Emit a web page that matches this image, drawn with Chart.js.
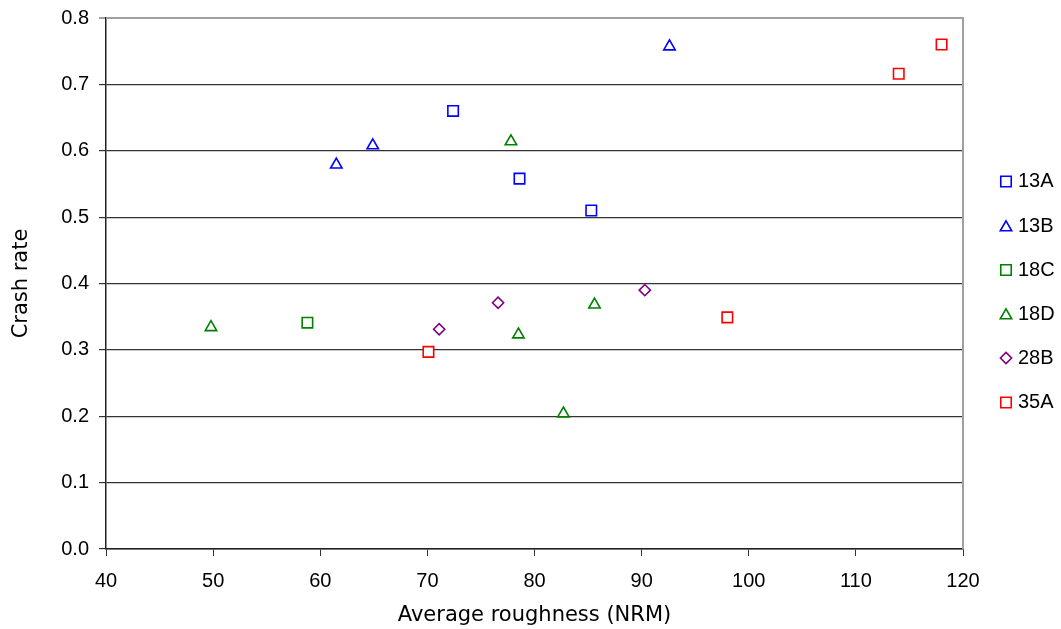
<!DOCTYPE html>
<html>
<head>
<meta charset="utf-8">
<script src="https://cdn.jsdelivr.net/npm/chart.js@4"></script>
<style>
  body { margin: 0; background: #fff; }
  canvas { display: block; }
</style>
</head>
<body>
<canvas id="myChart" width="1061" height="629"></canvas>
<script>
// series: average roughness (x) and crash rate (y)
const seriesNames = ['13A', '13B', '18C', '18D', '28B', '35A']

const x13A = [72.4, 78.6, 85.3]
const y13A = [0.660, 0.558, 0.510]

const x13B = [61.5, 64.9, 92.6]
const y13B = [0.579, 0.608, 0.757]

const x18C = [58.8]
const y18C = [0.341]

const x18D = [49.8, 77.8, 78.5, 82.7, 85.6]
const y18D = [0.334, 0.614, 0.323, 0.204, 0.368]

const x28B = [71.1, 76.6, 90.3]
const y28B = [0.331, 0.371, 0.390]

const x35A = [70.1, 98.0, 114.0, 118.0]
const y35A = [0.297, 0.349, 0.716, 0.760]

const xTicks = [40, 50, 60, 70, 80, 90, 100, 110, 120]
const yTicks = [0.0, 0.1, 0.2, 0.3, 0.4, 0.5, 0.6, 0.7, 0.8]

const puntos = (xs, ys) => xs.map((x, i) => ({ x: x, y: ys[i] }))

const serie = (label, xs, ys, color, estilo, radio) => ({
    label: label,
    data: puntos(xs, ys),
    pointStyle: estilo,
    pointRadius: radio,
    pointHoverRadius: radio,
    borderColor: color,
    backgroundColor: '#ffffff',
    pointBorderWidth: 1.6,
    showLine: false
})

/* ----------------------------- marco y leyenda ----------------------------- */
const marco = {
    id: 'marco',
    beforeDatasetsDraw(chart) {
        const { ctx, chartArea: a } = chart
        ctx.save()
        ctx.strokeStyle = '#a0a0a0'
        ctx.lineWidth = 2
        ctx.beginPath()
        ctx.moveTo(a.left, a.top)
        ctx.lineTo(a.right, a.top)
        ctx.lineTo(a.right, a.bottom)
        ctx.stroke()
        ctx.restore()
    },
    afterDraw(chart) {
        const ctx = chart.ctx
        const filas = [181.5, 226, 270, 314, 358, 402.5]
        chart.data.datasets.forEach((ds, i) => {
            ctx.save()
            ctx.strokeStyle = ds.borderColor
            ctx.fillStyle = '#ffffff'
            ctx.lineWidth = 1.6
            Chart.helpers.drawPoint(ctx, {
                pointStyle: ds.pointStyle,
                radius: ds.pointRadius,
                rotation: 0,
                borderWidth: 1.6
            }, 1006, filas[i] + (ds.pointStyle === 'triangle' ? 1.5 : 0))
            ctx.fillStyle = '#000'
            ctx.font = '20px "Liberation Sans", Arial, sans-serif'
            ctx.textBaseline = 'middle'
            ctx.textAlign = 'left'
            ctx.fillText(ds.label, 1018, filas[i])
            ctx.restore()
        })
    }
}

const ctx = document.getElementById('myChart').getContext('2d')

new Chart(ctx, {
    type: 'scatter',
    data: {
        datasets: [
            serie(seriesNames[0], x13A, y13A, '#0000ff', 'rect', 7.4),
            serie(seriesNames[1], x13B, y13B, '#0000ff', 'triangle', 6.6),
            serie(seriesNames[2], x18C, y18C, '#008000', 'rect', 7.4),
            serie(seriesNames[3], x18D, y18D, '#008000', 'triangle', 6.6),
            serie(seriesNames[4], x28B, y28B, '#800080', 'rectRot', 5.6),
            serie(seriesNames[5], x35A, y35A, '#ff0000', 'rect', 7.4)
        ]
    },
    options: {
        responsive: false,
        animation: false,
        layout: { padding: { left: 0, top: 18, right: 98, bottom: 0 } },
        plugins: {
            legend: { display: false },
            tooltip: { enabled: false }
        },
        scales: {
            x: {
                type: 'linear',
                min: xTicks[0],
                max: xTicks[xTicks.length - 1],
                afterBuildTicks: s => { s.ticks = xTicks.map(v => ({ value: v })) },
                afterFit: s => { s.height = 80; s.paddingLeft = 0; s.paddingRight = 0 },
                grid: {
                    drawOnChartArea: false,
                    drawTicks: true,
                    tickLength: 7,
                    color: '#333'
                },
                border: { color: '#222', width: 1.5 },
                ticks: {
                    padding: 13,
                    color: '#000',
                    font: { family: '"Liberation Sans", Arial, sans-serif', size: 20 }
                },
                title: {
                    display: true,
                    text: 'Average roughness (NRM)',
                    color: '#000',
                    padding: { top: 0, bottom: 1 },
                    font: { family: '"DejaVu Sans", Verdana, sans-serif', size: 21 }
                }
            },
            y: {
                type: 'linear',
                min: yTicks[0],
                max: yTicks[yTicks.length - 1],
                afterBuildTicks: s => { s.ticks = yTicks.map(v => ({ value: v })) },
                afterFit: s => { s.width = 106; s.paddingTop = 0; s.paddingBottom = 0 },
                grid: {
                    drawTicks: true,
                    tickLength: 7,
                    color: c => (c.tick && c.tick.value >= 0.8 ? '#a0a0a0' : '#333'),
                    lineWidth: c => (c.tick && c.tick.value >= 0.8 ? 2 : 1.2)
                },
                border: { color: '#222', width: 1.5 },
                ticks: {
                    padding: 10,
                    color: '#000',
                    font: { family: '"Liberation Sans", Arial, sans-serif', size: 20 },
                    callback: v => Number(v).toFixed(1)
                },
                title: {
                    display: true,
                    text: 'Crash rate',
                    color: '#000',
                    padding: { top: 9, bottom: 4 },
                    font: { family: '"DejaVu Sans", Verdana, sans-serif', size: 21 }
                }
            }
        }
    },
    plugins: [marco]
})
</script>
</body>
</html>
